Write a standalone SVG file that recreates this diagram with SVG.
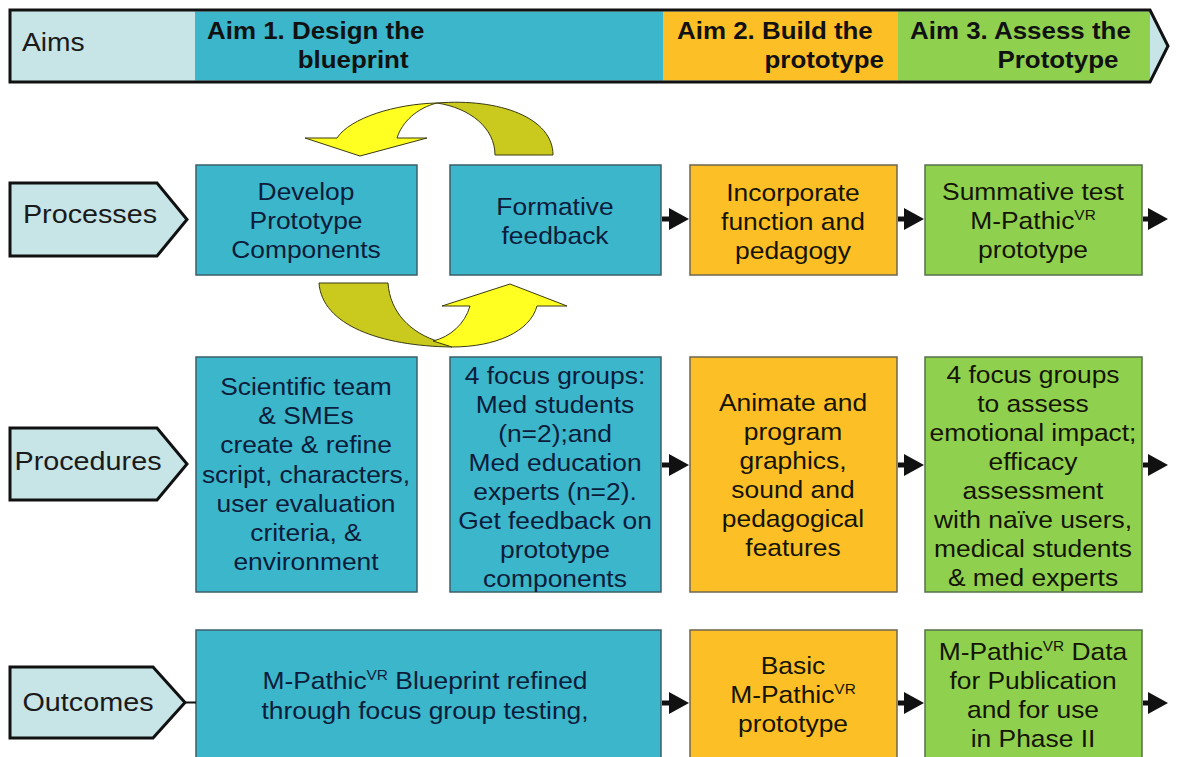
<svg xmlns="http://www.w3.org/2000/svg" width="1177" height="757" viewBox="0 0 1177 757">
<style>
text{font-family:"Liberation Sans",Arial,sans-serif;}
.bt{font-size:24px;text-anchor:middle;}
.tl{fill:#0d1c3a;}
.dk{fill:#141400;}
.lab{font-size:25px;fill:#1a1a1a;text-anchor:middle;}
.aim{font-size:24px;font-weight:bold;fill:#111;}
.teal{fill:#3bb6ca;stroke:#3d5f6b;stroke-width:1.5;}
.orng{fill:#fdbf26;stroke:#6f6650;stroke-width:1.5;}
.grn{fill:#8fd14f;stroke:#55704a;stroke-width:1.5;}
.chev{fill:#c7e4e7;stroke:#111;stroke-width:3;stroke-linejoin:miter;}
.sup{font-size:14px;}
.conn{stroke:#111;stroke-width:5;fill:none;}
.yel{fill:#ffff22;stroke:#3a3a10;stroke-width:1;}
.olv{fill:#caca1e;stroke:#3a3a10;stroke-width:1;}
</style>
<defs>
<marker id="ah" markerUnits="userSpaceOnUse" markerWidth="20" markerHeight="22" refX="10" refY="11" orient="auto">
<path d="M0,0 L20,11 L0,22 Z" fill="#111"/>
</marker>
</defs>
<rect width="1177" height="757" fill="#ffffff"/>

<g id="aims-bar">
<polygon points="10,10 1150,10 1168,46 1150,82 10,82" fill="#c7e4e7"/>
<rect x="195" y="11.5" width="468" height="69" fill="#3bb6ca"/>
<rect x="663" y="11.5" width="235" height="69" fill="#fdbf26"/>
<rect x="898" y="11.5" width="252" height="69" fill="#8fd14f"/>
<polygon points="10,10 1150,10 1168,46 1150,82 10,82" fill="none" stroke="#111" stroke-width="3"/>
<text class="lab" transform="translate(22,0) scale(1.13,1)" style="text-anchor:start"><tspan x="0" y="51">Aims</tspan></text>
<text class="aim" transform="translate(207,0) scale(1.08,1)"><tspan x="0" y="39">Aim 1. Design the</tspan><tspan x="84" y="68">blueprint</tspan></text>
<text class="aim" transform="translate(677,0) scale(1.08,1)"><tspan x="0" y="39">Aim 2. Build the</tspan><tspan x="81" y="68">prototype</tspan></text>
<text class="aim" transform="translate(910,0) scale(1.08,1)"><tspan x="0" y="39">Aim 3. Assess the</tspan><tspan x="81" y="68">Prototype</tspan></text>
</g>

<g id="label-processes">
<polygon class="chev" points="10,183 157,183 187,219.5 157,256 10,256"/>
<text class="lab" transform="translate(90,0) scale(1.15,1)"><tspan x="0" y="223">Processes</tspan></text>
</g>
<g id="label-procedures">
<polygon class="chev" points="10,428 157,428 187,464 157,500 10,500"/>
<text class="lab" transform="translate(88,0) scale(1.15,1)"><tspan x="0" y="470">Procedures</tspan></text>
</g>
<g id="label-outcomes">
<polygon class="chev" points="10,667 153,667 185,702.5 153,738 10,738"/>
<text class="lab" transform="translate(88,0) scale(1.15,1)"><tspan x="0" y="711">Outcomes</tspan></text>
</g>

<g id="cycle-arrows">
<path class="olv" d="M437,103 C500,98 553,118 553,155 L495,155 C495,128 470,108 437,103 Z"/>
<path class="yel" d="M437,103 C395,104 350,118 337,138 L305,138 L360,156 L427,138 L397,138 C402,122 417,108 437,103 Z"/>
<path class="olv" d="M319,283 L388,283 C390,312 410,333 440,342 L452,347 C380,346 322,325 319,283 Z"/>
<path class="yel" d="M433,341 C450,337 465,324 470,306 L442,306 L510,284 L567,306 L537,306 C530,332 495,347 452,347 Z"/>
</g>

<g id="develop">
<rect class="teal" x="196" y="165" width="221" height="110"/>
<text class="bt tl" transform="translate(306,0) scale(1.1,1)"><tspan x="0" y="200">Develop</tspan><tspan x="0" y="229">Prototype</tspan><tspan x="0" y="258">Components</tspan></text>
</g>
<g id="formative">
<rect class="teal" x="450" y="165" width="211" height="110"/>
<text class="bt tl" transform="translate(555,0) scale(1.1,1)"><tspan x="0" y="215">Formative</tspan><tspan x="0" y="244">feedback</tspan></text>
</g>
<g id="incorporate">
<rect class="orng" x="690" y="165" width="207" height="110"/>
<text class="bt dk" transform="translate(793,0) scale(1.1,1)"><tspan x="0" y="201">Incorporate</tspan><tspan x="0" y="230">function and</tspan><tspan x="0" y="259">pedagogy</tspan></text>
</g>
<g id="summative">
<rect class="grn" x="925" y="165" width="217" height="110"/>
<text class="bt dk" transform="translate(1033,0) scale(1.1,1)"><tspan x="0" y="200">Summative test</tspan><tspan x="0" y="229">M-Pathic</tspan><tspan class="sup" dy="-9">VR</tspan><tspan x="0" y="258">prototype</tspan></text>
</g>

<g id="scientific">
<rect class="teal" x="196" y="357" width="221" height="235"/>
<text class="bt tl" transform="translate(306,0) scale(1.1,1)"><tspan x="0" y="395">Scientific team</tspan><tspan x="0" y="424">&amp; SMEs</tspan><tspan x="0" y="453">create &amp; refine</tspan><tspan x="0" y="483">script, characters,</tspan><tspan x="0" y="512">user evaluation</tspan><tspan x="0" y="541">criteria, &amp;</tspan><tspan x="0" y="570">environment</tspan></text>
</g>
<g id="focus-groups">
<rect class="teal" x="450" y="357" width="211" height="235"/>
<text class="bt tl" transform="translate(555,0) scale(1.1,1)"><tspan x="0" y="384">4 focus groups:</tspan><tspan x="0" y="413">Med students</tspan><tspan x="0" y="442">(n=2);and</tspan><tspan x="0" y="471">Med education</tspan><tspan x="0" y="500">experts (n=2).</tspan><tspan x="0" y="529">Get feedback on</tspan><tspan x="0" y="558">prototype</tspan><tspan x="0" y="587">components</tspan></text>
</g>
<g id="animate">
<rect class="orng" x="690" y="357" width="207" height="235"/>
<text class="bt dk" transform="translate(793,0) scale(1.1,1)"><tspan x="0" y="411">Animate and</tspan><tspan x="0" y="440">program</tspan><tspan x="0" y="469">graphics,</tspan><tspan x="0" y="498">sound and</tspan><tspan x="0" y="527">pedagogical</tspan><tspan x="0" y="556">features</tspan></text>
</g>
<g id="assess">
<rect class="grn" x="925" y="357" width="217" height="235"/>
<text class="bt dk" transform="translate(1033,0) scale(1.1,1)"><tspan x="0" y="383">4 focus groups</tspan><tspan x="0" y="412">to assess</tspan><tspan x="0" y="441">emotional impact;</tspan><tspan x="0" y="470">efficacy</tspan><tspan x="0" y="499">assessment</tspan><tspan x="0" y="528">with naïve users,</tspan><tspan x="0" y="557">medical students</tspan><tspan x="0" y="586">&amp; med experts</tspan></text>
</g>

<g id="blueprint-outcome">
<rect class="teal" x="196" y="630" width="465" height="135"/>
<text class="bt tl" transform="translate(425,0) scale(1.1,1)"><tspan x="0" y="689">M-Pathic<tspan class="sup" dy="-9">VR</tspan><tspan dy="9"> Blueprint refined</tspan></tspan><tspan x="0" y="719">through focus group testing,</tspan></text>
</g>
<g id="basic-outcome">
<rect class="orng" x="690" y="630" width="207" height="135"/>
<text class="bt dk" transform="translate(793,0) scale(1.1,1)"><tspan x="0" y="674">Basic</tspan><tspan x="0" y="703">M-Pathic</tspan><tspan class="sup" dy="-9">VR</tspan><tspan x="0" y="732">prototype</tspan></text>
</g>
<g id="data-outcome">
<rect class="grn" x="925" y="630" width="217" height="135"/>
<text class="bt dk" transform="translate(1033,0) scale(1.1,1)"><tspan x="0" y="660">M-Pathic<tspan class="sup" dy="-9">VR</tspan><tspan dy="9"> Data</tspan></tspan><tspan x="0" y="689">for Publication</tspan><tspan x="0" y="718">and for use</tspan><tspan x="0" y="747">in Phase II</tspan></text>
</g>

<g id="connectors">
<line class="conn" x1="662" y1="219" x2="679" y2="219" marker-end="url(#ah)"/>
<line class="conn" x1="898" y1="219" x2="914" y2="219" marker-end="url(#ah)"/>
<line class="conn" x1="1143" y1="219" x2="1158" y2="219" marker-end="url(#ah)"/>
<line class="conn" x1="662" y1="465" x2="679" y2="465" marker-end="url(#ah)"/>
<line class="conn" x1="898" y1="465" x2="914" y2="465" marker-end="url(#ah)"/>
<line class="conn" x1="1143" y1="465" x2="1158" y2="465" marker-end="url(#ah)"/>
<line class="conn" x1="662" y1="703" x2="679" y2="703" marker-end="url(#ah)"/>
<line class="conn" x1="898" y1="703" x2="914" y2="703" marker-end="url(#ah)"/>
<line class="conn" x1="1143" y1="703" x2="1158" y2="703" marker-end="url(#ah)"/>
<line x1="185" y1="702.5" x2="196" y2="702.5" stroke="#111" stroke-width="2"/>
</g>
</svg>
